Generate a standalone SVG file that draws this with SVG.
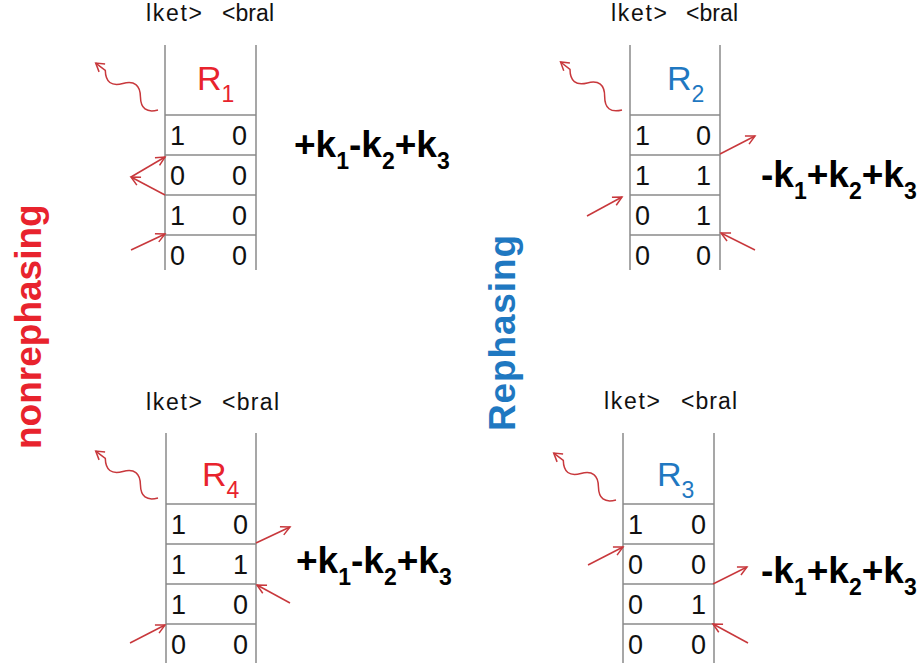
<svg xmlns="http://www.w3.org/2000/svg" xmlns:xlink="http://www.w3.org/1999/xlink" width="922" height="663" viewBox="0 0 922 663">
  <style>
    .frame { stroke: #8a8a8a; stroke-width: 1.5; fill: none; }
    .hdr { font-family: "Liberation Sans", Arial, sans-serif; font-size: 23px; fill: #111; }
    .cell { font-family: "Liberation Sans", Arial, sans-serif; font-size: 27px; fill: #111; }
    .rt { font-family: "Liberation Sans", Arial, sans-serif; font-size: 34px; }
    .rt .s { font-size: 23px; }
    .red { fill: #e8232d; }
    .blue { fill: #1f78c1; }
    .eq { font-family: "Liberation Sans", Arial, sans-serif; font-weight: bold; font-size: 37px; fill: #000; }
    .eq .s { font-size: 23px; }
    .side { font-family: "Liberation Sans", Arial, sans-serif; font-weight: bold; font-size: 37px; }
    .arr { stroke: #c8383c; stroke-width: 1.5; fill: none; marker-end: url(#ah); }
    .wave { stroke: #c8383c; stroke-width: 1.5; fill: none; }
  </style>
  <defs>
    <marker id="ah" markerUnits="userSpaceOnUse" markerWidth="14" markerHeight="14" viewBox="-12 -7 14 14" refX="0" refY="0" orient="auto" overflow="visible">
      <path d="M-9,-4.5 L0,0 L-9,4.5" fill="none" stroke="#c8383c" stroke-width="1.5"/>
    </marker>
    <!-- emitted signal: wavy line along +x ending in an open head -->
    <g id="wave">
      <path class="wave" d="M0,0 q11,-14 22,0 t22,0 t22,0 l12,0"/>
      <path class="wave" d="M70,-5 L78,0 L70,5"/>
    </g>
  </defs>

  <!-- side labels -->
  <text class="side red" transform="translate(41,449) rotate(-90)">nonrephasing</text>
  <text class="side blue" transform="translate(515,431) rotate(-90)" textLength="196">Rephasing</text>

  <!-- R1 -->
  <g id="R1">
    <text class="hdr" x="146" y="21" textLength="56">lket&gt;</text>
    <text class="hdr" x="222" y="21" textLength="52">&lt;bral</text>
    <path class="frame" d="M165,45 V270 M256,45 V270 M165,115 H256 M165,155 H256 M165,195 H256 M165,235 H256"/>
    <text class="rt red" x="197" y="90">R<tspan class="s" dy="12">1</tspan></text>
    <text class="cell" x="170" y="145">1</text><text class="cell" x="232" y="145">0</text>
    <text class="cell" x="170" y="185">0</text><text class="cell" x="232" y="185">0</text>
    <text class="cell" x="170" y="225">1</text><text class="cell" x="232" y="225">0</text>
    <text class="cell" x="170" y="265">0</text><text class="cell" x="232" y="265">0</text>
    <text class="eq" x="294" y="157">+k<tspan class="s" dy="12">1</tspan><tspan dy="-12">-k</tspan><tspan class="s" dy="12">2</tspan><tspan dy="-12">+k</tspan><tspan class="s" dy="12">3</tspan></text>
  </g>

  <!-- R2 -->
  <g id="R2">
    <text class="hdr" x="611" y="21" textLength="56">lket&gt;</text>
    <text class="hdr" x="686" y="21" textLength="52">&lt;bral</text>
    <path class="frame" d="M630,45 V270 M720,45 V270 M630,115 H720 M630,155 H720 M630,195 H720 M630,235 H720"/>
    <text class="rt blue" x="667" y="90">R<tspan class="s" dy="12">2</tspan></text>
    <text class="cell" x="635" y="145">1</text><text class="cell" x="696" y="145">0</text>
    <text class="cell" x="635" y="185">1</text><text class="cell" x="696" y="185">1</text>
    <text class="cell" x="635" y="225">0</text><text class="cell" x="696" y="225">1</text>
    <text class="cell" x="635" y="265">0</text><text class="cell" x="696" y="265">0</text>
    <text class="eq" x="761" y="187">-k<tspan class="s" dy="12">1</tspan><tspan dy="-12">+k</tspan><tspan class="s" dy="12">2</tspan><tspan dy="-12">+k</tspan><tspan class="s" dy="12">3</tspan></text>
  </g>

  <!-- R4 -->
  <g id="R4">
    <text class="hdr" x="146" y="410" textLength="56">lket&gt;</text>
    <text class="hdr" x="222" y="410" textLength="57">&lt;bral</text>
    <path class="frame" d="M166,433 V663 M256,433 V663 M166,504 H256 M166,544 H256 M166,584 H256 M166,624 H256"/>
    <text class="rt red" x="202" y="486">R<tspan class="s" dy="12">4</tspan></text>
    <text class="cell" x="171" y="534">1</text><text class="cell" x="233" y="534">0</text>
    <text class="cell" x="171" y="574">1</text><text class="cell" x="233" y="574">1</text>
    <text class="cell" x="171" y="614">1</text><text class="cell" x="233" y="614">0</text>
    <text class="cell" x="171" y="654">0</text><text class="cell" x="233" y="654">0</text>
    <text class="eq" x="296" y="573">+k<tspan class="s" dy="12">1</tspan><tspan dy="-12">-k</tspan><tspan class="s" dy="12">2</tspan><tspan dy="-12">+k</tspan><tspan class="s" dy="12">3</tspan></text>
  </g>

  <!-- R3 -->
  <g id="R3">
    <text class="hdr" x="604" y="409" textLength="56">lket&gt;</text>
    <text class="hdr" x="681" y="409" textLength="56">&lt;bral</text>
    <path class="frame" d="M623,433 V663 M714,433 V663 M623,504 H714 M623,544 H714 M623,584 H714 M623,624 H714"/>
    <text class="rt blue" x="657" y="486">R<tspan class="s" dy="12">3</tspan></text>
    <text class="cell" x="628" y="534">1</text><text class="cell" x="691" y="534">0</text>
    <text class="cell" x="628" y="574">0</text><text class="cell" x="691" y="574">0</text>
    <text class="cell" x="628" y="614">0</text><text class="cell" x="691" y="614">1</text>
    <text class="cell" x="628" y="654">0</text><text class="cell" x="691" y="654">0</text>
    <text class="eq" x="761" y="583">-k<tspan class="s" dy="12">1</tspan><tspan dy="-12">+k</tspan><tspan class="s" dy="12">2</tspan><tspan dy="-12">+k</tspan><tspan class="s" dy="12">3</tspan></text>
  </g>

  <!-- field interactions and emitted signals -->
  <g id="connectors">
    <use xlink:href="#wave" transform="translate(158,110) rotate(-143)"/>
    <line class="arr" x1="131" y1="177" x2="165" y2="157"/>
    <line class="arr" x1="165" y1="195" x2="131" y2="177"/>
    <line class="arr" x1="131" y1="250" x2="165" y2="234"/>

    <use xlink:href="#wave" transform="translate(622,110) rotate(-142)"/>
    <line class="arr" x1="720" y1="154" x2="755" y2="136"/>
    <line class="arr" x1="587" y1="216" x2="622" y2="197"/>
    <line class="arr" x1="755" y1="250" x2="721" y2="233"/>

    <use xlink:href="#wave" transform="translate(158,498) rotate(-143)"/>
    <line class="arr" x1="256" y1="543" x2="290" y2="527"/>
    <line class="arr" x1="290" y1="603" x2="257" y2="585"/>
    <line class="arr" x1="130" y1="643" x2="165" y2="625"/>

    <use xlink:href="#wave" transform="translate(616,500) rotate(-143)"/>
    <line class="arr" x1="588" y1="565" x2="623" y2="547"/>
    <line class="arr" x1="713" y1="584" x2="747" y2="567"/>
    <line class="arr" x1="748" y1="643" x2="713" y2="624"/>
  </g>
</svg>
